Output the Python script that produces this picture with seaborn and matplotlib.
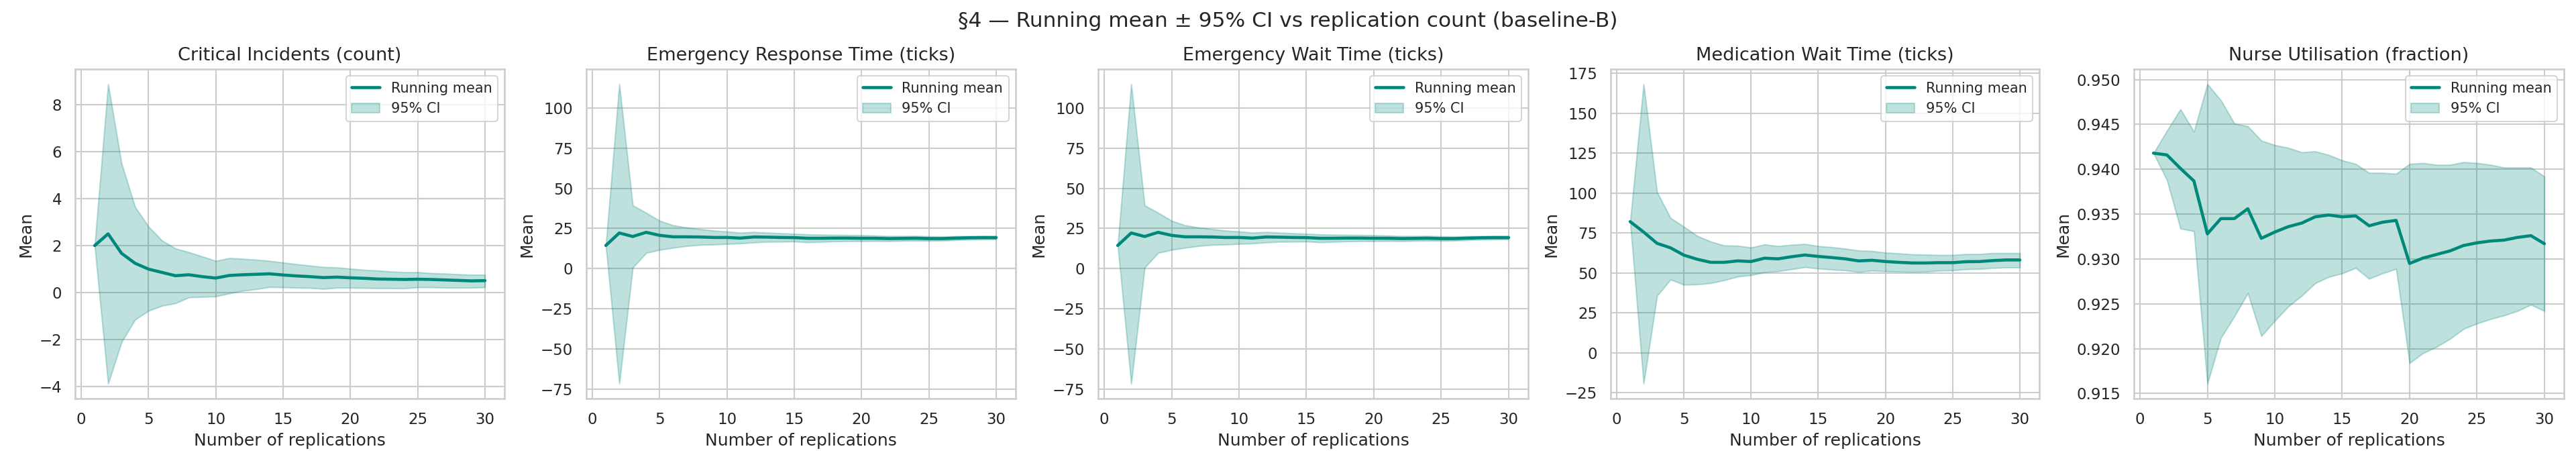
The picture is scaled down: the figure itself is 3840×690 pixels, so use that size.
import matplotlib
matplotlib.use("Agg")
import matplotlib.pyplot as plt
import numpy as np
import pandas as pd
import seaborn as sns

# replication counts 1..30
reps = list(range(1, 31))

titles = [
    "Critical Incidents (count)",
    "Emergency Response Time (ticks)",
    "Emergency Wait Time (ticks)",
    "Medication Wait Time (ticks)",
    "Nurse Utilisation (fraction)",
]

# critical incidents
ci_mean = [2.0, 2.5, 1.67, 1.25, 1.0, 0.86, 0.72, 0.76, 0.68, 0.62, 0.73, 0.76, 0.78, 0.80,
           0.75, 0.71, 0.68, 0.64, 0.66, 0.63, 0.61, 0.58, 0.57, 0.56, 0.57, 0.56, 0.54,
           0.52, 0.50, 0.51]
ci_hi = [2.0, 8.87, 5.49, 3.65, 2.81, 2.22, 1.88, 1.72, 1.54, 1.35, 1.47, 1.44, 1.40, 1.35,
         1.28, 1.21, 1.15, 1.09, 1.07, 1.02, 0.97, 0.94, 0.90, 0.87, 0.87, 0.83, 0.81,
         0.78, 0.76, 0.76]
ci_lo = [2.0, -3.87, -2.1, -1.15, -0.77, -0.56, -0.45, -0.2, -0.18, -0.16, -0.03, 0.08,
         0.15, 0.24, 0.23, 0.21, 0.20, 0.16, 0.21, 0.21, 0.20, 0.19, 0.19, 0.18, 0.23,
         0.23, 0.21, 0.21, 0.21, 0.23]

# emergency response time
ert_mean = [14.4, 22.2, 20.0, 22.6, 20.7, 19.8, 19.8, 19.7, 19.4, 19.4, 19.0, 19.7, 19.6,
            19.4, 19.3, 18.9, 18.9, 19.0, 19.0, 18.9, 18.9, 18.7, 18.8, 18.9, 18.7, 18.7,
            19.0, 19.2, 19.3, 19.3]
ert_hi = [14.4, 115.0, 39.4, 34.8, 29.8, 27.0, 25.6, 24.6, 23.7, 23.1, 22.4, 22.8, 22.4,
          22.0, 21.7, 21.3, 21.1, 21.0, 20.9, 20.8, 20.6, 20.3, 20.3, 20.4, 20.1, 20.0,
          20.2, 20.3, 20.4, 20.3]
ert_lo = [14.4, -71.7, 0.6, 9.8, 11.7, 13.0, 14.1, 14.8, 15.0, 15.4, 15.7, 16.3, 16.7,
          16.8, 16.9, 16.4, 16.7, 17.0, 17.1, 17.1, 17.2, 17.1, 17.3, 17.4, 17.3, 17.4,
          17.8, 18.1, 18.2, 18.3]

# emergency wait time
ewt_mean = [14.4, 22.2, 20.0, 22.6, 20.7, 19.8, 19.8, 19.7, 19.4, 19.4, 19.0, 19.7, 19.6,
            19.4, 19.3, 18.9, 18.9, 19.0, 19.0, 18.9, 18.9, 18.7, 18.8, 18.9, 18.7, 18.7,
            19.0, 19.2, 19.3, 19.3]
ewt_hi = [14.4, 115.0, 39.4, 34.8, 29.8, 27.0, 25.6, 24.6, 23.7, 23.1, 22.4, 22.8, 22.4,
          22.0, 21.7, 21.3, 21.1, 21.0, 20.9, 20.8, 20.6, 20.3, 20.3, 20.4, 20.1, 20.0,
          20.2, 20.3, 20.4, 20.3]
ewt_lo = [14.4, -71.7, 0.6, 9.8, 11.7, 13.0, 14.1, 14.8, 15.0, 15.4, 15.7, 16.3, 16.7,
          16.8, 16.9, 16.4, 16.7, 17.0, 17.1, 17.1, 17.2, 17.1, 17.3, 17.4, 17.3, 17.4,
          17.8, 18.1, 18.2, 18.3]

# medication wait time
mwt_mean = [82.1, 75.6, 68.5, 65.7, 61.1, 58.5, 56.6, 56.6, 57.5, 57.1, 59.2, 58.8, 60.1,
            61.2, 60.3, 59.6, 58.8, 57.5, 57.9, 57.1, 56.6, 56.2, 56.2, 56.4, 56.4, 57.0,
            57.1, 57.7, 58.1, 58.1]
mwt_hi = [82.1, 168.3, 100.7, 84.5, 78.9, 73.2, 69.6, 67.2, 67.0, 65.9, 67.8, 66.8, 67.6,
          68.1, 66.8, 66.1, 65.2, 64.0, 63.7, 62.7, 62.2, 61.6, 61.4, 61.2, 61.2, 61.8,
          61.8, 62.4, 62.4, 62.4]
mwt_lo = [82.1, -19.4, 35.6, 45.8, 42.6, 42.8, 43.6, 45.4, 47.7, 48.6, 50.4, 51.0, 52.3,
          53.6, 52.7, 52.1, 51.6, 50.6, 51.4, 51.0, 50.8, 50.6, 50.8, 51.4, 51.6, 52.3,
          52.5, 53.1, 53.4, 53.4]

# nurse utilisation
nu_mean = [0.9418, 0.9416, 0.9401, 0.9387, 0.9328, 0.9345, 0.9345, 0.9356, 0.9323, 0.9330,
           0.9336, 0.9340, 0.9347, 0.9349, 0.9347, 0.9348, 0.9337, 0.9341, 0.9343, 0.9295,
           0.9301, 0.9305, 0.9309, 0.9315, 0.9318, 0.9320, 0.9321, 0.9324, 0.9326, 0.9317]
nu_hi = [0.9418, 0.9443, 0.9467, 0.9442, 0.9495, 0.9477, 0.9451, 0.9448, 0.9432, 0.9427,
         0.9424, 0.9419, 0.9420, 0.9416, 0.9410, 0.9406, 0.9396, 0.9396, 0.9395, 0.9406,
         0.9407, 0.9405, 0.9405, 0.9408, 0.9407, 0.9405, 0.9402, 0.9402, 0.9402, 0.9392]
nu_lo = [0.9418, 0.9388, 0.9334, 0.9331, 0.9161, 0.9212, 0.9236, 0.9262, 0.9214, 0.9231,
         0.9247, 0.9259, 0.9273, 0.9280, 0.9284, 0.9290, 0.9278, 0.9284, 0.9289, 0.9184,
         0.9195, 0.9202, 0.9211, 0.9222, 0.9228, 0.9233, 0.9237, 0.9242, 0.9249, 0.9242]

series = [
    (ci_mean, ci_lo, ci_hi),
    (ert_mean, ert_lo, ert_hi),
    (ewt_mean, ewt_lo, ewt_hi),
    (mwt_mean, mwt_lo, mwt_hi),
    (nu_mean, nu_lo, nu_hi),
]

COLOR = "#00897B"

# panel boxes in pixels (left, right), figure is 3840 x 690
W, H = 3840, 690
PANEL_X = [(112, 752), (874, 1514), (1637, 2278), (2401, 3040), (3181, 3822)]
PANEL_TOP, PANEL_BOTTOM = 103, 594


def main():
    sns.set_theme(style="whitegrid")
    fig, axes = plt.subplots(1, 5, figsize=(W / 150, H / 150), dpi=150)

    for ax, title, (mean, lo, hi), (x0, x1) in zip(axes, titles, series, PANEL_X):
        ax.set_position([x0 / W, 1 - PANEL_BOTTOM / H, (x1 - x0) / W,
                         (PANEL_BOTTOM - PANEL_TOP) / H])
        df = pd.DataFrame({"n": reps, "mean": mean, "lo": lo, "hi": hi})
        sns.lineplot(data=df, x="n", y="mean", ax=ax, color=COLOR, lw=2.2,
                     label="Running mean")
        ax.fill_between(df.n, df.lo, df.hi, color=COLOR, alpha=0.25, label="95% CI")
        ax.set_title(title, fontsize=13)
        ax.set_xlabel("Number of replications")
        ax.set_ylabel("Mean")
        ax.set_xticks([0, 5, 10, 15, 20, 25, 30])
        ax.legend(loc="upper right", fontsize=10)

    fig.suptitle("§4 — Running mean ± 95% CI vs replication count (baseline-B)",
                 fontsize=15, y=1 - 32 / H, va="center")
    fig.savefig("out.png", dpi=150)


if __name__ == "__main__":
    main()
